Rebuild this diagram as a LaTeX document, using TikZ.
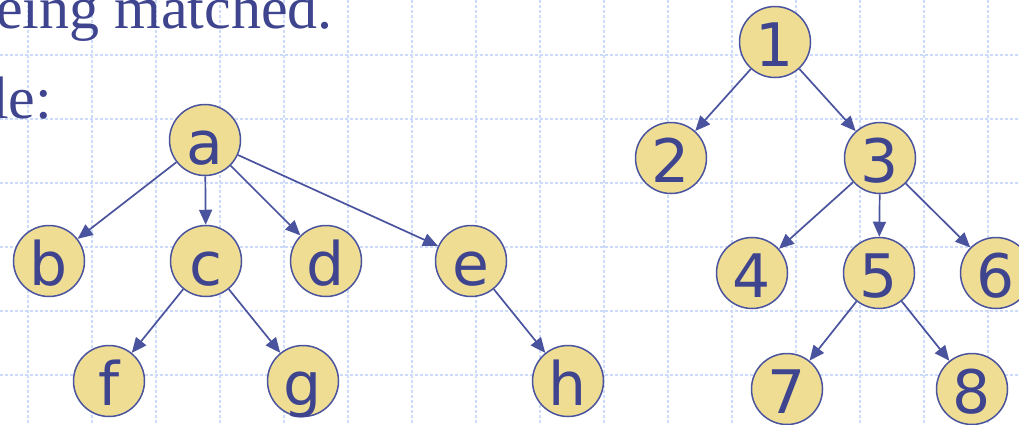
\documentclass[tikz,border=0pt]{standalone}
\usepackage{fontspec}
\setmainfont{Liberation Serif}
\newfontfamily\nodefont{DejaVu Sans}
\usetikzlibrary{arrows.meta}
\definecolor{gridc}{RGB}{204,219,250}
\definecolor{txt}{RGB}{62,68,142}
\definecolor{fillc}{RGB}{240,221,148}
\definecolor{edgec}{RGB}{74,84,158}
\begin{document}
\begin{tikzpicture}[x=1pt,y=-1pt,
 vert/.style={circle,draw=edgec,line width=1.5pt,fill=fillc,minimum size=71pt,inner sep=0pt,text=txt,text height=48pt,text depth=0pt,font=\nodefont\fontsize{60}{60}\selectfont},
 link/.style={draw=edgec,line width=1.7pt,-{Triangle[length=15pt,width=13pt]}},
 gridline/.style={draw=gridc,line width=2pt,dash pattern=on 3pt off 2pt},
 slidetext/.style={anchor=base west,inner sep=0pt,text=txt,font=\fontsize{60}{60}\selectfont}]
\useasboundingbox (0,0) rectangle (1019,424);
\fill[white] (0,0) rectangle (1019,424);
\foreach \x in {28,92,...,988} \draw[gridline] (\x,0) -- (\x,424);
\foreach \y in {55,119,...,439} \draw[gridline] (0,\y) -- (1019,\y);
\node[slidetext] (t1) at (-4,28) {eing matched.};
\node[slidetext] (t2) at (-8,118) {le:};
% left tree
\node[vert] (a) at (205,140) {a};
\node[vert] (b) at (49,261) {b};
\node[vert] (c) at (206,261) {c};
\node[vert] (d) at (326,261) {d};
\node[vert] (e) at (471,261) {e};
\node[vert] (f) at (109,381) {f};
\node[vert] (g) at (303,381) {g};
\node[vert] (h) at (568,381) {h};
% right tree
\node[vert] (n1) at (775,42) {1};
\node[vert] (n2) at (671,158) {2};
\node[vert] (n3) at (880,158) {3};
\node[vert] (n4) at (752,273) {4};
\node[vert] (n5) at (879,273) {5};
\node[vert] (n6) at (996,273) {6};
\node[vert] (n7) at (787,389) {7};
\node[vert] (n8) at (972,389) {8};
\foreach \s/\t in {a/b,a/c,a/d,a/e,c/f,c/g,e/h,n1/n2,n1/n3,n3/n4,n3/n5,n3/n6,n5/n7,n5/n8}
  \draw[link] (\s) -- (\t);
\end{tikzpicture}
\end{document}
